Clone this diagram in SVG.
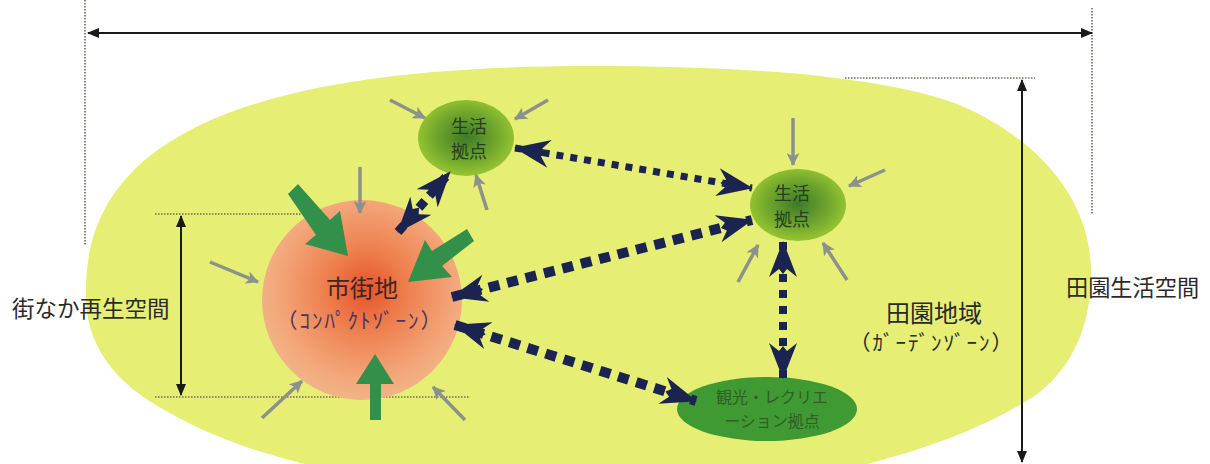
<svg xmlns="http://www.w3.org/2000/svg" width="1210" height="464" viewBox="0 0 1210 464">
<defs>
<style>
.lbl{font-family:"Noto Sans CJK JP","Noto Sans",sans-serif;fill:#2a2a2a}
.nd{font-family:"Noto Sans CJK JP","Noto Sans",sans-serif;font-weight:400}
.gray{stroke:#8c918c;stroke-width:3.5;fill:none;marker-end:url(#gh)}
.nav{stroke:#1b2350;fill:none;marker-start:url(#nh);marker-end:url(#nh)}
.dim{stroke:#1a1a1a;stroke-width:2;fill:none;marker-start:url(#dh);marker-end:url(#dh)}
.guide{stroke:#6b6b5a;stroke-width:1.6;stroke-dasharray:1.5 1.5;fill:none}
.grn{fill:#33904a}
</style>
<radialGradient id="og" cx="0.52" cy="0.45" r="0.55">
<stop offset="0" stop-color="#e6532a"/>
<stop offset="0.35" stop-color="#ee7d4c"/>
<stop offset="0.8" stop-color="#f3a679"/>
<stop offset="1" stop-color="#f1b485"/>
</radialGradient>
<radialGradient id="gg" cx="0.5" cy="0.48" r="0.55">
<stop offset="0" stop-color="#3f7a28"/>
<stop offset="0.55" stop-color="#6ea42c"/>
<stop offset="1" stop-color="#9cc932"/>
</radialGradient>
<marker id="nh" viewBox="0 0 36 30" refX="35" refY="15" markerWidth="36" markerHeight="30" markerUnits="userSpaceOnUse" orient="auto-start-reverse">
<path d="M0,1 L36,15 L0,29 L8,19 L3,15 L8,11 Z" fill="#1b2350"/>
</marker>
<marker id="gh" viewBox="0 0 12 12" refX="11" refY="6" markerWidth="14" markerHeight="13" markerUnits="userSpaceOnUse" orient="auto">
<path d="M0,0 L12,6 L0,12 L3,6 Z" fill="#8c918c"/>
</marker>
<marker id="dh" viewBox="0 0 12 10" refX="11" refY="5" markerWidth="13" markerHeight="10" markerUnits="userSpaceOnUse" orient="auto-start-reverse">
<path d="M0,0 L12,5 L0,10 Z" fill="#1a1a1a"/>
</marker>
</defs>
<rect width="1210" height="464" fill="#ffffff"/>

<g id="field">
<path d="M86,290 C84,340 110,382 170,413 C250,460 400,495 590,495 C800,495 950,450 1033,397 C1075,368 1092,320 1091,270 C1090,200 1040,140 960,105 C880,75 740,66 590,66 C220,66 86,150 86,290 Z" fill="#e6ef74"/>
</g>

<g id="guides">
<line class="guide" x1="85" y1="0" x2="85" y2="245"/>
<line class="guide" x1="1092" y1="8" x2="1092" y2="215"/>
<line class="guide" x1="155" y1="214" x2="410" y2="214"/>
<line class="guide" x1="155" y1="397" x2="470" y2="397"/>
<line class="guide" x1="845" y1="78" x2="1035" y2="78"/>
</g>

<g id="dimensions">
<line class="dim" x1="88" y1="33" x2="1092" y2="33"/>
<line class="dim" x1="181" y1="216" x2="181" y2="395"/>
<line class="dim" x1="1022" y1="80" x2="1022" y2="462"/>
</g>

<g id="shigaichi">
<circle cx="362" cy="300" r="100" fill="url(#og)"/>
<text class="nd" x="362" y="297" font-size="24" text-anchor="middle" fill="#3e2620">市街地</text>
<text class="nd" x="360" y="328" font-size="21" text-anchor="middle" fill="#4a3560" letter-spacing="2">（ｺﾝﾊﾟｸﾄｿﾞｰﾝ）</text>
</g>

<g id="kyoten1">
<ellipse cx="466" cy="138" rx="48" ry="38" fill="url(#gg)"/>
<text class="nd" x="469" y="133" font-size="18" text-anchor="middle" fill="#24401f">生活</text>
<text class="nd" x="469" y="158" font-size="18" text-anchor="middle" fill="#24401f">拠点</text>
</g>

<g id="kyoten2">
<ellipse cx="798" cy="205" rx="48" ry="36" fill="url(#gg)"/>
<text class="nd" x="792" y="200" font-size="18" text-anchor="middle" fill="#24401f">生活</text>
<text class="nd" x="792" y="226" font-size="18" text-anchor="middle" fill="#24401f">拠点</text>
</g>

<g id="kanko">
<ellipse cx="767" cy="409" rx="90" ry="32" fill="#3f9a34"/>
<text class="nd" x="772" y="403" font-size="16" text-anchor="middle" fill="#2f5f22">観光・レクリエ</text>
<text class="nd" x="772" y="427" font-size="16" text-anchor="middle" fill="#2f5f22">ーション拠点</text>
</g>

<g id="labels">
<text class="lbl" x="12" y="317" font-size="22.5">街なか再生空間</text>
<text class="lbl" x="1066" y="296" font-size="22.2">田園生活空間</text>
<text class="lbl" x="934" y="322" font-size="24" text-anchor="middle">田園地域</text>
<text class="lbl" x="932" y="350" font-size="21" text-anchor="middle" letter-spacing="2">（ｶﾞｰﾃﾞﾝｿﾞｰﾝ）</text>
</g>

<g id="connectors">
<polygon class="grn" points="288,194 298,184 330,220 340,211 348,256 305,244 316,235"/>
<polygon class="grn" points="474,241 467,229 432,251 425,240 408,282 452,277 442,266"/>
<polygon class="grn" points="370,420 381,420 381,384 394,384 375,354 356,384 370,384"/>
<line class="gray" x1="210" y1="262" x2="258" y2="282"/>
<line class="gray" x1="360" y1="167" x2="360" y2="213"/>
<line class="gray" x1="262" y1="418" x2="302" y2="381"/>
<line class="gray" x1="465" y1="420" x2="433" y2="387"/>
<line class="gray" x1="390" y1="100" x2="425" y2="118"/>
<line class="gray" x1="548" y1="100" x2="515" y2="119"/>
<line class="gray" x1="487" y1="210" x2="476" y2="175"/>
<line class="gray" x1="793" y1="118" x2="793" y2="165"/>
<line class="gray" x1="885" y1="170" x2="849" y2="186"/>
<line class="gray" x1="738" y1="282" x2="758" y2="245"/>
<line class="gray" x1="847" y1="280" x2="823" y2="243"/>
<line class="nav" x1="398" y1="232" x2="450" y2="172" stroke-width="9" stroke-dasharray="9 7"/>
<line class="nav" x1="515" y1="148" x2="752" y2="188" stroke-width="7" stroke-dasharray="7 7"/>
<line class="nav" x1="452" y1="297" x2="752" y2="220" stroke-width="10" stroke-dasharray="11 8"/>
<line class="nav" x1="455" y1="325" x2="696" y2="401" stroke-width="10" stroke-dasharray="11 8"/>
<line class="nav" x1="783" y1="242" x2="783" y2="378" stroke-width="8" stroke-dasharray="8 8"/>
</g>
</svg>
